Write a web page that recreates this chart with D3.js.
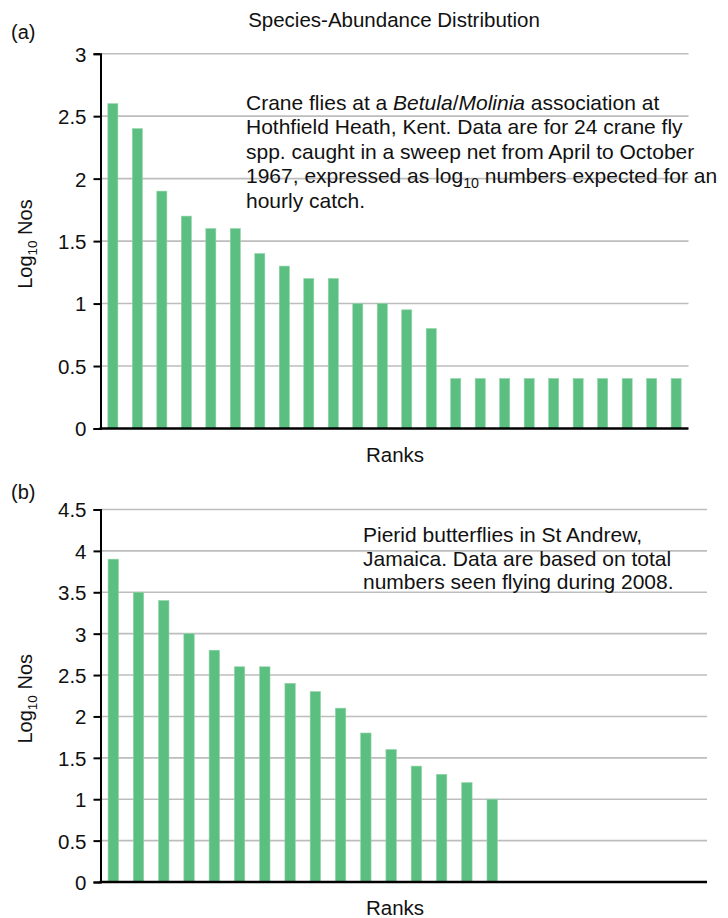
<!DOCTYPE html>
<html><head><meta charset="utf-8">
<script src="https://cdn.jsdelivr.net/npm/d3@7"></script>
<style>
body{margin:0;background:#fff;}
text{font-family:"Liberation Sans",Arial,Helvetica,sans-serif;fill:#111;}
</style></head>
<body><svg id="c" width="728" height="918"></svg>
<script>
const title = "Species-Abundance Distribution";
const ranksA = d3.range(1, 25);
const valuesA = [2.6, 2.4, 1.9, 1.7, 1.6, 1.6, 1.4, 1.3, 1.2, 1.2, 1.0, 1.0, 0.95, 0.8, 0.4, 0.4, 0.4, 0.4, 0.4, 0.4, 0.4, 0.4, 0.4, 0.4];
const ticksA = [0, 0.5, 1, 1.5, 2, 2.5, 3];
const ranksB = d3.range(1, 25);
const valuesB = [3.9, 3.5, 3.4, 3.0, 2.8, 2.6, 2.6, 2.4, 2.3, 2.1, 1.8, 1.6, 1.4, 1.3, 1.2, 1.0];
const ticksB = [0, 0.5, 1, 1.5, 2, 2.5, 3, 3.5, 4, 4.5];
const noteA = [
  [{t:"Crane flies at a "},{t:"Betula",i:1},{t:"/"},{t:"Molinia",i:1},{t:" association at"}],
  [{t:"Hothfield Heath, Kent. Data are for 24 crane fly"}],
  [{t:"spp. caught in a sweep net from April to October"}],
  [{t:"1967, expressed as log"},{t:"10",sub:1},{t:" numbers expected for an"}],
  [{t:"hourly catch."}]
];
const noteB = [
  [{t:"Pierid butterflies in St Andrew,"}],
  [{t:"Jamaica. Data are based on total"}],
  [{t:"numbers seen flying during 2008."}]
];

const svg = d3.select("#c");
svg.append("text").attr("x", 394).attr("y", 27).attr("text-anchor","middle").attr("font-size", 20.5).text(title);

function panel(cfg){
  const g = svg.append("g");
  const x = d3.scaleBand().domain(cfg.ranks).range([cfg.x0, cfg.x1]).paddingInner(0.59).paddingOuter(0.3);
  const y = d3.scaleLinear().domain([0, d3.max(cfg.ticks)]).range([cfg.yb, cfg.yt]);
  g.selectAll(".grid").data(cfg.ticks.filter(d=>d>0)).join("line")
    .attr("x1", cfg.x0).attr("x2", cfg.x1).attr("y1", d=>y(d)).attr("y2", d=>y(d))
    .attr("stroke", "#bdbdbd").attr("stroke-width", 1.6);
  g.selectAll(".bar").data(cfg.values).join("rect")
    .attr("x", (d,i)=>x(cfg.ranks[i])).attr("width", x.bandwidth())
    .attr("y", d=>y(d)).attr("height", d=>y(0)-y(d))
    .attr("fill", "#5cbf82").attr("stroke","#8fd3a6").attr("stroke-width",0.6);
  const ay = g.append("g").attr("transform", `translate(${cfg.x0},0)`)
    .call(d3.axisLeft(y).tickValues(cfg.ticks).tickSize(7).tickPadding(7).tickFormat(d3.format("")));
  ay.select(".domain").attr("stroke","#000").attr("stroke-width",2);
  ay.selectAll(".tick line").attr("stroke","#000").attr("stroke-width",2);
  ay.selectAll(".tick text").attr("font-size", 20.5).attr("font-family","Liberation Sans, Arial, sans-serif").attr("fill","#111").attr("dy","0.36em");
  g.append("line").attr("x1", cfg.x0-1).attr("x2", cfg.x1).attr("y1", y(0)).attr("y2", y(0)).attr("stroke","#000").attr("stroke-width",2.5);
  g.append("text").attr("x", 11).attr("y", cfg.labY).attr("font-size", 20).text(cfg.label);
  g.append("text").attr("x", 395).attr("y", y(0)+33).attr("text-anchor","middle").attr("font-size",20.5).text("Ranks");
  const yl = g.append("text").attr("transform", `translate(32,${(y(0)+y(d3.max(cfg.ticks)))/2+3}) rotate(-90)`)
    .attr("text-anchor","middle").attr("font-size",20);
  yl.append("tspan").text("Log");
  yl.append("tspan").attr("font-size",13.5).attr("dy",5).text("10");
  yl.append("tspan").attr("dy",-5).text(" Nos");
  cfg.note.forEach((line, li) => {
    const t = g.append("text").attr("x", cfg.nx).attr("y", cfg.ny + li*cfg.nl).attr("font-size", cfg.nf);
    const si = line.findIndex(q=>q.sub);
    line.forEach((s, k) => {
      const sp = t.append("tspan").text(s.t);
      if (s.i) sp.attr("font-style","italic");
      if (s.sub) { sp.attr("font-size", cfg.nf*0.68).attr("dy", 5); }
      else if (si >= 0 && k === si + 1) sp.attr("dy", -5);
    });
  });
}

panel({ranks: ranksA, values: valuesA, ticks: ticksA, x0: 100.5, x1: 688.5, yb: 428.5, yt: 53.7,
  label: "(a)", labY: 39, note: noteA, nx: 246, ny: 110, nl: 24.4, nf: 21});
panel({ranks: ranksB, values: valuesB, ticks: ticksB, x0: 100.5, x1: 707, yb: 882, yt: 509.5,
  label: "(b)", labY: 499, note: noteB, nx: 363, ny: 542, nl: 23.5, nf: 21});
</script></body></html>
